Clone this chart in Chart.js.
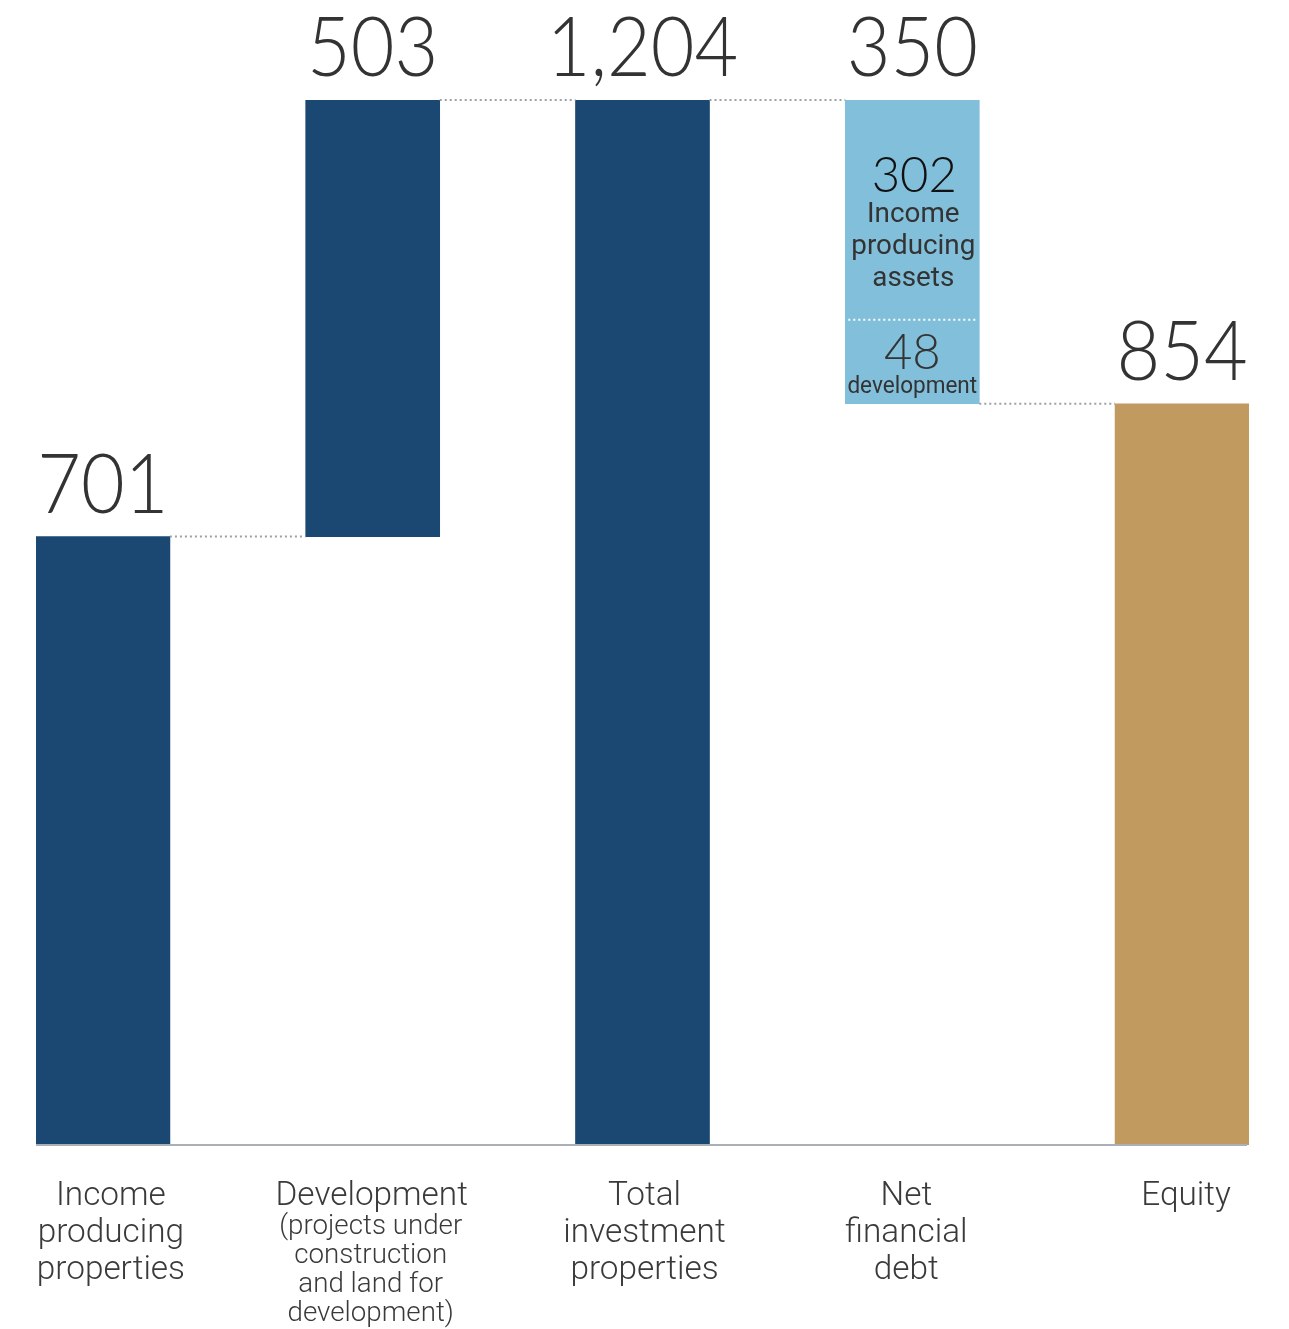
<!DOCTYPE html>
<html>
<head>
<meta charset="utf-8">
<title>Investment properties, debt and equity</title>
<script src="https://cdn.jsdelivr.net/npm/chart.js@4.4.1/dist/chart.umd.min.js"></script>
<style>
    body { margin: 0; background: #ffffff; }
    #wrap { width: 1289px; height: 1329px; position: relative; }
</style>
</head>
<body>
<div id="wrap"><canvas id="waterfall"></canvas></div>
<script>
// waterfall: properties + development = total = net debt + equity
const categories = ["Income producing properties", "Development", "Total investment properties", "Net financial debt", "Equity"];
const labelLines = [
    ["Income", "producing", "properties"],
    ["Development"],
    ["Total", "investment", "properties"],
    ["Net", "financial", "debt"],
    ["Equity"]
];
const devNote = ["(projects under", "construction", "and land for", "development)"];
const barStart = [0, 701, 0, 854, 0];
const barEnd = [701, 1204, 1204, 1204, 854];
const barValues = [701, 503, 1204, 350, 854];
const debtParts = [302, 48];
const debtPartLabels = [["Income", "producing", "assets"], ["development"]];
const barColors = ["#1a4873", "#1a4873", "#1a4873", "#82bfda", "#c19a5f"];

const FONT = "Roboto, 'Noto Sans', sans-serif";
const NUM_FONT = "Lato, Roboto, sans-serif";

function drawText(ctx, text, x, y, size, weight, color, sx, family) {
    ctx.save();
    ctx.font = weight + " " + size + "px " + (family || FONT);
    ctx.fillStyle = color;
    ctx.textAlign = "center";
    ctx.textBaseline = "alphabetic";
    ctx.translate(x, y);
    ctx.scale(sx, 1);
    ctx.fillText(text, 0, 0);
    ctx.restore();
}

function dotted(ctx, x1, x2, y, color) {
    ctx.save();
    ctx.strokeStyle = color;
    ctx.lineWidth = 2;
    ctx.setLineDash([2, 3]);
    ctx.beginPath();
    ctx.moveTo(x1, y);
    ctx.lineTo(x2, y);
    ctx.stroke();
    ctx.restore();
}

const annotations = {
    id: "annotations",
    afterDatasetsDraw(chart) {
        const ctx = chart.ctx;
        const yScale = chart.scales.y;
        const xScale = chart.scales.x;
        const area = chart.chartArea;
        const bars = chart.getDatasetMeta(0).data;
        const y0 = yScale.getPixelForValue(0);

        // baseline
        ctx.save();
        ctx.strokeStyle = "#a9b0b5";
        ctx.lineWidth = 2;
        ctx.beginPath();
        ctx.moveTo(area.left, y0);
        ctx.lineTo(area.right - 2, y0);
        ctx.stroke();
        ctx.restore();

        // connectors between neighbouring bars at the shared level
        for (let i = 0; i < bars.length - 1; i++) {
            const a = [barStart[i], barEnd[i]];
            const b = [barStart[i + 1], barEnd[i + 1]];
            const level = a.find(v => v !== 0 && b.includes(v));
            if (level === undefined) continue;
            const left = bars[i].getProps(["x", "width"], true);
            const right = bars[i + 1].getProps(["x", "width"], true);
            dotted(ctx, left.x + left.width / 2, right.x - right.width / 2, yScale.getPixelForValue(level), "#9aa1a7");
        }

        // value labels above each bar
        bars.forEach((bar, i) => {
            const top = yScale.getPixelForValue(barEnd[i]);
            drawText(ctx, barValues[i].toLocaleString("en-US"), bar.x, top - 24, 82, 300, "#333333", 0.92, NUM_FONT);
        });

        // split of the net financial debt bar
        const debt = bars[3].getProps(["x", "width"], true);
        const dTop = yScale.getPixelForValue(barEnd[3]);
        const dBottom = yScale.getPixelForValue(barStart[3]);
        const sepY = dBottom - 84;
        dotted(ctx, debt.x - debt.width / 2 + 3, debt.x + debt.width / 2 - 2, sepY, "#ffffff");
        drawText(ctx, String(debtParts[0]), debt.x + 2, dTop + 92, 49, 300, "#111111", 1.0, NUM_FONT);
        debtPartLabels[0].forEach((t, k) => {
            drawText(ctx, t, debt.x + 1, dTop + 122 + k * 32, 27, 400, "#333333", 1.03);
        });
        drawText(ctx, String(debtParts[1]), debt.x, dBottom - 35, 49, 300, "#333333", 1.0, NUM_FONT);
        drawText(ctx, debtPartLabels[1][0], debt.x, dBottom - 11, 23, 400, "#333333", 0.98);

        // category labels under the baseline
        const offsets = [8, -1, 2, -6, 4];
        labelLines.forEach((lines, i) => {
            const cx = xScale.getPixelForValue(i) + offsets[i];
            lines.forEach((t, k) => {
                drawText(ctx, t, cx, y0 + 60 + k * 37, 34, 300, "#3a3a3a", 0.98);
            });
        });
        const devX = xScale.getPixelForValue(1) - 2;
        devNote.forEach((t, k) => {
            drawText(ctx, t, devX, y0 + 89 + k * 29, 28, 300, "#3a3a3a", 0.99);
        });
    }
};

const ctx = document.getElementById("waterfall");
const chart = new Chart(ctx, {
    type: "bar",
    data: {
        datasets: [{
            label: "EUR m",
            data: categories.map((c, i) => ({ x: i, y: [barStart[i], barEnd[i]] })),
            backgroundColor: barColors,
            borderWidth: 0,
            barThickness: 134
        }]
    },
    options: {
        responsive: true,
        maintainAspectRatio: false,
        animation: false,
        layout: { padding: { top: 100, bottom: 184, left: 36, right: 40 } },
        plugins: {
            legend: { display: false },
            tooltip: { enabled: false }
        },
        scales: {
            x: {
                type: "linear",
                offset: false,
                min: -0.248,
                max: 4.248,
                display: false,
                afterBuildTicks: scale => {
                    scale.ticks = categories.map((c, i) => ({ value: i }));
                }
            },
            y: {
                min: 0,
                max: 1204,
                display: false
            }
        }
    },
    plugins: [annotations]
});
</script>
</body>
</html>
